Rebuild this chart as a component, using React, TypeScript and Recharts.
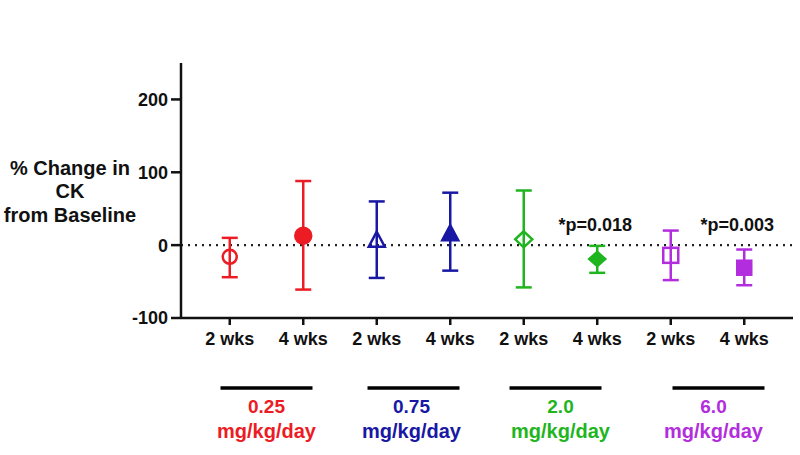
import React from 'react';
import { ScatterChart, Scatter, XAxis, YAxis, ErrorBar, ReferenceLine, ReferenceDot } from 'recharts';

// ---- data ----
const positions = [1, 2, 3, 4, 5, 6, 7, 8];
const timepoints = ['2 wks', '4 wks', '2 wks', '4 wks', '2 wks', '4 wks', '2 wks', '4 wks'];
const groupOfPoint = [0, 0, 1, 1, 2, 2, 3, 3];
const meanChange = [-16, 13, 6, 15, 8, -19, -14, -31];
const upperLimit = [10, 88, 60, 72, 75, -1, 20, -6];
const lowerLimit = [-44, -61, -45, -35, -58, -38, -48, -55];
const doses = ['0.25', '0.75', '2.0', '6.0'];
const doseUnit = 'mg/kg/day';
const groupTicks = [1.5, 3.5, 5.5, 7.5];
const yTicks = [-100, 0, 100, 200];
const annotations = [
  { x: 6, y: 27, text: '*p=0.018' },
  { x: 8, y: 27, text: '*p=0.003' },
];

// ---- styles ----
const FONT = '"Liberation Sans", Arial, Helvetica, sans-serif';
const colors = ['#ec1c24', '#1818a4', '#1fb51f', '#b22ddd'];
const markerKinds = ['circle', 'triangle', 'diamond', 'square'];
const barDx = [0, 0, -5, 11];
const textDx = [0, -2, 0, 6];

const rows = positions.map((x, i) => ({
  x,
  y: meanChange[i],
  err: [meanChange[i] - lowerLimit[i], upperLimit[i] - meanChange[i]],
  filled: i % 2 === 1,
  group: groupOfPoint[i],
}));

function Marker(props: any) {
  const { cx, cy, payload } = props;
  if (cx == null || cy == null) return null;
  const g = payload.group;
  const color = colors[g];
  const filled = payload.filled;
  const fill = filled ? color : 'none';
  const sw = 2.5;
  const kind = markerKinds[g];
  if (kind === 'circle') {
    return <circle cx={cx} cy={cy} r={filled ? 8 : 7} fill={fill} stroke={color} strokeWidth={sw} />;
  }
  if (kind === 'triangle') {
    const pts = `${cx},${cy - 9} ${cx + 8},${cy + 6} ${cx - 8},${cy + 6}`;
    return <polygon points={pts} fill={fill} stroke={color} strokeWidth={sw} strokeLinejoin="miter" />;
  }
  if (kind === 'diamond') {
    const w = filled ? 8 : 8.5;
    const h = filled ? 7 : 8;
    const pts = `${cx},${cy - h} ${cx + w},${cy} ${cx},${cy + h} ${cx - w},${cy}`;
    return <polygon points={pts} fill={fill} stroke={color} strokeWidth={sw} />;
  }
  const w = filled ? 7 : 7.5;
  const h = filled ? 7 : 7.5;
  return <rect x={cx - w} y={cy - h} width={w * 2} height={h * 2} fill={fill} stroke={color} strokeWidth={sw} />;
}

function GroupTick(props: any) {
  const { x, y, index } = props;
  const bx = x + barDx[index];
  const tx = x + textDx[index];
  const color = colors[index];
  return (
    <g>
      <line x1={bx - 46} x2={bx + 46} y1={y + 30} y2={y + 30} stroke="#000" strokeWidth={3.5} />
      <text x={tx} y={y + 55} textAnchor="middle" fill={color} fontFamily={FONT} fontWeight="bold" fontSize={19}>
        {doses[index]}
      </text>
      <text x={tx} y={y + 80} textAnchor="middle" fill={color} fontFamily={FONT} fontWeight="bold" fontSize={20}>
        {doseUnit}
      </text>
    </g>
  );
}

function YLabel(props: any) {
  const vb = props.viewBox || { x: 0, y: 63 };
  const cx = 70;
  const top = vb.y;
  const st = { fontFamily: FONT, fontWeight: 'bold' as const, fontSize: 20, fill: '#111' };
  return (
    <g>
      <text x={cx} y={top + 112} textAnchor="middle" {...st}>% Change in</text>
      <text x={cx} y={top + 135} textAnchor="middle" {...st}>CK</text>
      <text x={cx} y={top + 159} textAnchor="middle" {...st}>from Baseline</text>
    </g>
  );
}

export default function App() {
  const tickStyle = { fontFamily: FONT, fontWeight: 'bold' as const, fontSize: 18, fill: '#111' };
  return (
    <div style={{ position: 'absolute', left: 0, top: 0, width: 800, height: 455, background: '#fff' }}>
      <ScatterChart width={800} height={455} margin={{ top: 63, right: 7, bottom: 0, left: 0 }}>
        <XAxis
          xAxisId={0}
          type="number"
          dataKey="x"
          domain={[0.5, 8.5]}
          ticks={positions}
          interval={0}
          tickFormatter={(v: number) => timepoints[v - 1]}
          padding={{ left: 12, right: 12 }}
          height={40}
          axisLine={{ stroke: '#111', strokeWidth: 2.5 }}
          tickLine={{ stroke: '#111', strokeWidth: 2.5 }}
          tickSize={7}
          tickMargin={7}
          tick={tickStyle}
        />
        <XAxis
          xAxisId="grp"
          type="number"
          dataKey="x"
          domain={[0.5, 8.5]}
          allowDataOverflow
          ticks={groupTicks}
          interval={0}
          padding={{ left: 12, right: 12 }}
          height={97}
          axisLine={false}
          tickLine={false}
          tickSize={0}
          tickMargin={0}
          tick={<GroupTick />}
        />
        <YAxis
          type="number"
          dataKey="y"
          domain={[-100, 250]}
          ticks={yTicks}
          interval={0}
          width={181}
          axisLine={{ stroke: '#111', strokeWidth: 2.5 }}
          tickLine={{ stroke: '#111', strokeWidth: 2.5 }}
          tickSize={10}
          tickMargin={3}
          tick={tickStyle}
          label={<YLabel />}
        />
        <ReferenceLine y={0} stroke="#222" strokeWidth={2.2} strokeDasharray="2 5" />
        {[0, 1, 2, 3].map((g) => (
          <Scatter
            key={g}
            data={rows.filter((r) => r.group === g)}
            shape={(p: any) => <Marker {...p} />}
            isAnimationActive={false}
          >
            <ErrorBar dataKey="err" direction="y" width={8} stroke={colors[g]} strokeWidth={2.5} isAnimationActive={false} />
          </Scatter>
        ))}
        {annotations.map((a, i) => (
          <ReferenceDot
            key={i}
            x={a.x}
            y={a.y}
            r={0}
            shape={(p: any) => (
              <text x={p.cx - (i === 0 ? 2 : 7)} y={p.cy + 6} textAnchor="middle" fontFamily={FONT} fontWeight="bold" fontSize={18} fill="#111">
                {a.text}
              </text>
            )}
          />
        ))}
      </ScatterChart>
    </div>
  );
}
